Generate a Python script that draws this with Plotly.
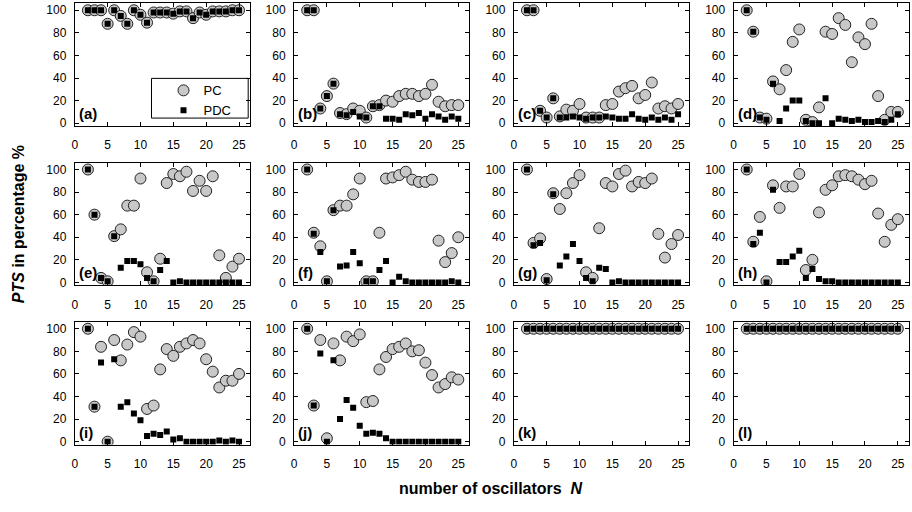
import plotly.graph_objects as go

N = list(range(2, 26))
x_ticks = [0, 5, 10, 15, 20, 25]
y_ticks = [0, 20, 40, 60, 80, 100]
panel_labels = ["(a)", "(b)", "(c)", "(d)", "(e)", "(f)", "(g)", "(h)", "(i)", "(j)", "(k)", "(l)"]

pc_a = [100, 100, 100, 88, 100, 95, 88, 100, 96, 89, 98, 98, 98, 97, 99, 99, 93, 98, 96, 99, 99, 99, 100, 100]
pdc_a = [100, 100, 100, 88, 100, 95, 88, 100, 96, 89, 98, 98, 98, 97, 99, 99, 93, 98, 96, 99, 99, 99, 100, 100]

pc_b = [100, 100, 13, 24, 35, 9, 8, 13, 11, 5, 15, 16, 20, 19, 24, 26, 26, 24, 26, 34, 19, 15, 16, 16]
pdc_b = [100, 100, 13, 24, 35, 8, 7, 10, 6, 5, 15, 15, 4, 4, 3, 8, 7, 9, 4, 8, 6, 3, 6, 4]

pc_c = [100, 100, 11, 5, 22, 6, 12, 11, 17, 5, 5, 5, 16, 17, 28, 31, 33, 22, 25, 36, 13, 15, 13, 17]
pdc_c = [100, 100, 11, 5, 22, 5, 5, 6, 5, 4, 5, 5, 6, 5, 4, 4, 8, 4, 3, 5, 3, 5, 3, 8]

pc_d = [100, 81, 5, 4, 37, 30, 47, 72, 83, 3, 1, 14, 81, 79, 93, 87, 54, 76, 70, 88, 24, 3, 10, 10]
pdc_d = [100, 81, 5, 3, 35, 2, 13, 20, 20, 2, 0, 0, 22, 0, 4, 3, 2, 3, 1, 1, 2, 1, 3, 8]

pc_e = [100, 60, 4, 1, 41, 47, 68, 68, 92, 9, 1, 21, 88, 96, 94, 98, 81, 90, 81, 94, 24, 4, 14, 21]
pdc_e = [100, 60, 4, 1, 41, 13, 19, 19, 16, 4, 1, 11, 19, 0, 1, 0, 0, 0, 0, 0, 0, 0, 0, 0]

pc_f = [100, 44, 32, 1, 64, 68, 68, 78, 92, 1, 1, 44, 92, 93, 95, 98, 91, 89, 89, 91, 37, 18, 26, 40]
pdc_f = [100, 43, 27, 1, 64, 14, 15, 27, 17, 1, 1, 11, 19, 0, 5, 1, 0, 0, 0, 0, 0, 0, 1, 0]

pc_g = [100, 35, 39, 3, 79, 65, 79, 88, 95, 9, 4, 48, 88, 85, 96, 99, 85, 89, 88, 92, 43, 22, 34, 42]
pdc_g = [100, 33, 35, 2, 78, 15, 23, 34, 19, 4, 1, 13, 12, 0, 1, 0, 0, 0, 0, 0, 0, 0, 0, 0]

pc_h = [100, 36, 58, 1, 86, 66, 85, 85, 96, 11, 20, 62, 82, 86, 94, 95, 94, 91, 87, 90, 61, 36, 51, 56]
pdc_h = [100, 34, 44, 0, 82, 18, 18, 23, 28, 4, 12, 3, 1, 1, 0, 0, 0, 0, 0, 0, 0, 0, 0, 0]

pc_i = [100, 31, 84, 0, 90, 72, 86, 97, 93, 29, 32, 64, 82, 76, 84, 87, 90, 87, 73, 62, 48, 54, 54, 60]
pdc_i = [100, 31, 70, 0, 73, 31, 35, 25, 19, 5, 7, 6, 9, 2, 3, 0, 0, 0, 0, 0, 1, 0, 1, 0]

pc_j = [100, 32, 90, 3, 87, 72, 93, 89, 95, 35, 36, 64, 75, 82, 84, 87, 80, 81, 70, 59, 48, 51, 57, 55]
pdc_j = [100, 32, 78, 0, 72, 20, 37, 30, 14, 7, 8, 7, 3, 0, 0, 0, 0, 0, 0, 0, 0, 0, 0, 0]

pc_k = [100] * 24
pdc_k = [100] * 24
pc_l = [100] * 24
pdc_l = [100] * 24

pc_all = [pc_a, pc_b, pc_c, pc_d, pc_e, pc_f, pc_g, pc_h, pc_i, pc_j, pc_k, pc_l]
pdc_all = [pdc_a, pdc_b, pdc_c, pdc_d, pdc_e, pdc_f, pdc_g, pdc_h, pdc_i, pdc_j, pdc_k, pdc_l]

W, H = 912, 512
col_left = [72, 292, 512.5, 733]
pw = 176
row_top = [3.5, 164, 324.5]
ph = 123.5

FONT = "Liberation Sans, Arial, Helvetica, sans-serif"
fig = go.Figure()
layout = {}
annotations = []

for k in range(12):
    r, c = divmod(k, 4)
    idx = "" if k == 0 else str(k + 1)
    xa, ya = "x" + idx, "y" + idx
    x0 = col_left[c] / W
    x1 = (col_left[c] + pw) / W
    y1 = 1 - row_top[r] / H
    y0 = 1 - (row_top[r] + ph) / H
    common = dict(showgrid=False, zeroline=False, showline=True, linecolor="black",
                  linewidth=1, mirror="ticks", ticks="inside", ticklen=4, tickwidth=1,
                  tickcolor="black", tickfont=dict(family=FONT, size=12, color="black"))
    layout["xaxis" + idx] = dict(domain=[x0, x1], anchor=ya, range=[0, 26.7],
                                 tickvals=x_ticks, ticklabelstandoff=8, **common)
    layout["yaxis" + idx] = dict(domain=[y0, y1], anchor=xa, range=[-2.5, 106],
                                 tickvals=y_ticks, ticklabelstandoff=5, **common)
    fig.add_trace(go.Scatter(x=N, y=pc_all[k], mode="markers", name="PC",
                             xaxis=xa, yaxis=ya, showlegend=(k == 0),
                             marker=dict(symbol="circle", size=11, color="#c8c8c8",
                                         line=dict(color="#222222", width=1))))
    fig.add_trace(go.Scatter(x=N, y=pdc_all[k], mode="markers", name="PDC",
                             xaxis=xa, yaxis=ya, showlegend=(k == 0),
                             marker=dict(symbol="square", size=6, color="black",
                                         line=dict(width=0))))
    annotations.append(dict(x=(col_left[c] + 2) / W, y=1 - (row_top[r] + ph - 2) / H,
                            xref="paper", yref="paper", xanchor="left", yanchor="bottom",
                            text="<b>" + panel_labels[k] + "</b>", showarrow=False,
                            font=dict(family=FONT, size=15, color="black")))

annotations.append(dict(x=15 / W, y=1 - 226 / H, xref="paper", yref="paper",
                        xanchor="center", yanchor="middle",
                        text="<b><i>PTS</i> in percentage %</b>", textangle=-90,
                        showarrow=False, font=dict(family=FONT, size=16, color="black")))
annotations.append(dict(x=490 / W, y=1 - 492 / H, xref="paper", yref="paper",
                        xanchor="center", yanchor="middle",
                        text="<b>number of oscillators  <i>N</i></b>",
                        showarrow=False, font=dict(family=FONT, size=16, color="black")))

legend_box = dict(type="rect", xref="paper", yref="paper",
                  x0=149 / W, x1=246 / W, y0=1 - 119 / H, y1=1 - 79 / H,
                  line=dict(color="black", width=1), fillcolor="white", layer="below")

fig.update_layout(width=W, height=H, margin=dict(l=0, r=0, t=0, b=0),
                  paper_bgcolor="white", plot_bgcolor="white",
                  annotations=annotations, shapes=[legend_box],
                  legend=dict(x=149 / W, y=1 - 76 / H, xanchor="left", yanchor="top",
                              borderwidth=0, bgcolor="rgba(0,0,0,0)",
                              font=dict(family=FONT, size=13, color="black"),
                              tracegroupgap=0, itemwidth=30, indentation=12),
                  **layout)

fig.write_html("out.html")
